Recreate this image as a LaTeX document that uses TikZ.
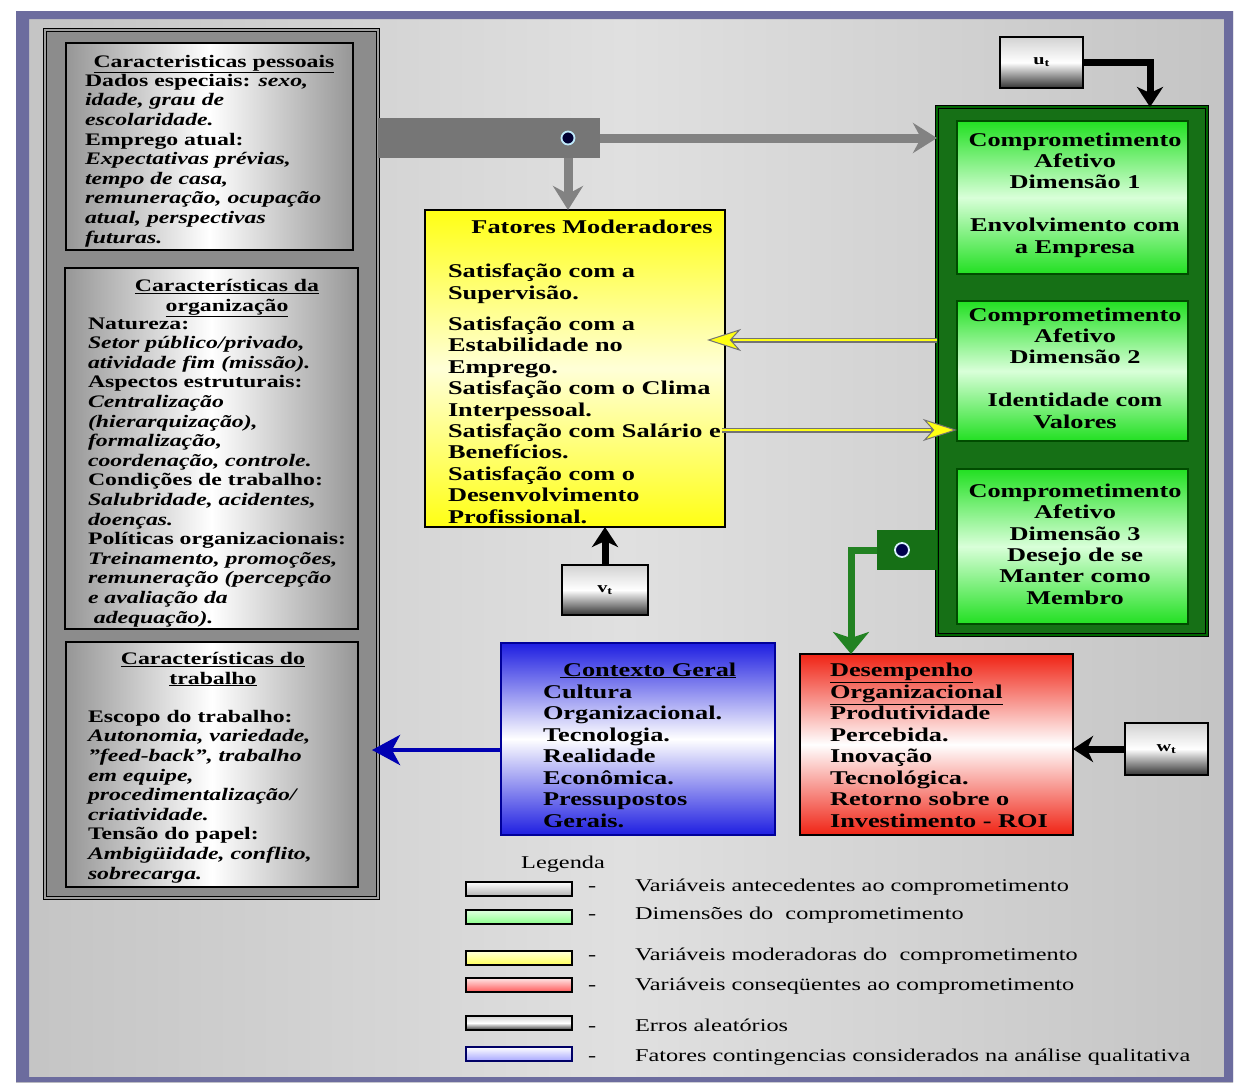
\documentclass[tikz,border=0pt]{standalone}
\usepackage{fontspec}
\setmainfont{Liberation Serif}[FakeStretch=1.35]
\usetikzlibrary{arrows.meta,calc}
\definecolor{bgA}{RGB}{196,196,196}
\definecolor{bgB}{RGB}{224,224,224}
\definecolor{frameblue}{RGB}{108,108,158}
\definecolor{panelgray}{RGB}{140,140,140}
\definecolor{bargray}{RGB}{118,118,118}
\definecolor{arrgray}{RGB}{130,130,130}
\definecolor{dkgreen}{RGB}{22,112,22}
\definecolor{lnGreen}{RGB}{34,130,34}
\definecolor{brgreen}{RGB}{34,224,34}
\definecolor{lgA}{RGB}{150,150,150}
\definecolor{myyellow}{RGB}{255,255,20}
\definecolor{myblue}{RGB}{30,30,225}
\definecolor{myred}{RGB}{240,35,20}
\newcommand\fsz[2]{\fontsize{#1}{#2}\selectfont}
\begin{document}
\begin{tikzpicture}[x=1pt,y=-1pt,
  every node/.style={inner sep=0pt, outer sep=0pt},
  panelbox/.style={fill=panelgray, draw=black, line width=1pt, double=gray!75, double distance=2.5pt},
  lbox/.style={draw=black, line width=1.2pt, left color=lgA, right color=lgA, middle color=white},
  gbox/.style={draw=black!70!green, line width=1.2pt, top color=brgreen, bottom color=brgreen, middle color=white!85!green},
  errbox/.style={draw=black, line width=1.8pt, top color=gray!35, bottom color=black!80, middle color=white},
  ttl/.style={anchor=base, align=center, font=\fsz{17.6}{19.6}\bfseries},
  bodyL/.style={anchor=base west, align=left, font=\fsz{17.6}{19.6}\bfseries},
  bodyB/.style={anchor=base west, align=left, font=\fsz{19.5}{21.5}\bfseries},
  gtext/.style={anchor=base, align=center, font=\fsz{19.5}{21.3}\bfseries},
  legtxt/.style={anchor=base west, font=\fsz{18}{20}},
  legsw/.style={draw=black, line width=1.8pt, minimum width=106pt, minimum height=14pt},
  garrow/.style={draw=arrgray, line width=9pt, -{Stealth[length=24pt, width=30pt, inset=8pt]}},
  karrow/.style={draw=black, line width=7pt, -{Stealth[length=20pt, width=26pt, inset=6pt]}},
  dot/.style={circle, minimum size=13pt, line width=1.8pt}
]
\useasboundingbox (0,0) rectangle (1237,1082);
\fill[white] (0,0) rectangle (1237,1082);
\shade[left color=bgA, right color=bgA, middle color=bgB] (16,11) rectangle (1233,1082);
\fill[frameblue, even odd rule] (16,11) rectangle (1233,1082) (29,19) rectangle (1224,1077);

% left panel
\node[panelbox, minimum width=333pt, minimum height=868pt] (lp) at (211.5,464) {};
\node[lbox, minimum width=287pt, minimum height=207pt] (lb1) at (209.5,146.5) {};
\node[lbox, minimum width=293pt, minimum height=361pt] (lb2) at (211.5,448.5) {};
\node[lbox, minimum width=292pt, minimum height=245pt] (lb3) at (212,764.5) {};

\node[ttl] (t1) at (214,67) {\underline{Caracteristicas pessoais}};
\node[bodyL] (b1) at (85,243) {Dados especiais: \textit{sexo,}\\
\textit{idade, grau de}\\
\textit{escolaridade.}\\
Emprego atual:\\
\textit{Expectativas prévias,}\\
\textit{tempo de casa,}\\
\textit{remuneração, ocupação}\\
\textit{atual, perspectivas}\\
\textit{futuras.}};

\node[ttl] (t2) at (227,311) {\underline{Características da}\\\underline{organização}};
\node[bodyL] (b2) at (88,623) {Natureza:\\
\textit{Setor público/privado,}\\
\textit{atividade fim (missão).}\\
Aspectos estruturais:\\
\textit{Centralização}\\
\textit{(hierarquização),}\\
\textit{formalização,}\\
\textit{coordenação, controle.}\\
Condições de trabalho:\\
\textit{Salubridade, acidentes,}\\
\textit{doenças.}\\
Políticas organizacionais:\\
\textit{Treinamento, promoções,}\\
\textit{remuneração (percepção}\\
\textit{e avaliação da}\\
\textit{\ adequação).}};

\node[ttl] (t3) at (213,684) {\underline{Características do}\\\underline{trabalho}};
\node[bodyL] (b3) at (88,879) {Escopo do trabalho:\\
\textit{Autonomia, variedade,}\\
\textit{"feed-back", trabalho}\\
\textit{em equipe,}\\
\textit{procedimentalização/}\\
\textit{criatividade.}\\
Tensão do papel:\\
\textit{Ambigüidade, conflito,}\\
\textit{sobrecarga.}};

% gray bar and circle
\node[fill=bargray, minimum width=222pt, minimum height=40pt] (bar) at (489,138) {};
\node[dot, fill=black!80!blue, draw=white!75!cyan] (c1) at (568,138) {};

% yellow box
\node[draw=black, line width=1.2pt, top color=myyellow, bottom color=myyellow, middle color={rgb,255:red,255;green,255;blue,215}, minimum width=300pt, minimum height=317pt] (yel) at (575,368.5) {};
\node[bodyB, anchor=base] (yt) at (592,233) {Fatores Moderadores};
\node[bodyB, font=\fsz{19.5}{21.4}\bfseries] (yb) at (448,523) {Satisfação com a\\
Supervisão.\\[10pt]
Satisfação com a\\
Estabilidade no\\
Emprego.\\
Satisfação com o Clima\\
Interpessoal.\\
Satisfação com Salário e\\
Benefícios.\\
Satisfação com o\\
Desenvolvimento\\
Profissional.};

% green outer & inner boxes
\node[fill=dkgreen, draw=black, line width=1pt, double=black!60!green, double distance=2pt, minimum width=270pt, minimum height=528pt] (gout) at (1072,371) {};
\node[gbox, minimum width=231pt, minimum height=153pt] (g1) at (1072.5,197.5) {};
\node[gbox, minimum width=231pt, minimum height=140pt] (g2) at (1072.5,371) {};
\node[gbox, minimum width=231pt, minimum height=155pt] (g3) at (1072.5,546.5) {};
\node[gtext] (g1t) at (1075,253) {Comprometimento\\Afetivo\\Dimensão 1\\[21.5pt]Envolvimento com\\a Empresa};
\node[gtext] (g2t) at (1075,428) {Comprometimento\\Afetivo\\Dimensão 2\\[21.5pt]Identidade com\\Valores};
\node[gtext] (g3t) at (1075,604) {Comprometimento\\Afetivo\\Dimensão 3\\Desejo de se\\Manter como\\Membro};

% error boxes
\node[errbox, minimum width=83pt, minimum height=51pt, font=\fsz{15}{16}\bfseries] (ut) at (1041.5,62.5) {u\textsubscript{t}};
\node[errbox, minimum width=86pt, minimum height=50pt, font=\fsz{15}{16}\bfseries] (vt) at (605,590) {v\textsubscript{t}};
\node[errbox, minimum width=83pt, minimum height=52pt, font=\fsz{15}{16}\bfseries] (wt) at (1166.5,749) {w\textsubscript{t}};

% small green square with circle
\node[fill=dkgreen, minimum width=60pt, minimum height=40pt] (gsq) at (907,550) {};
\node[dot, fill=black!70!blue, draw=white!85!cyan, minimum size=14pt] (c2) at (902,550) {};

% blue box
\node[draw=black!40!blue, line width=1.2pt, top color=myblue, bottom color=myblue, middle color=white, minimum width=274pt, minimum height=192pt] (blu) at (638,739) {};
\node[bodyB, anchor=base] (bt) at (648,676) {\underline{\,Contexto Geral}};
\node[bodyB] (bb) at (543,827) {Cultura\\
Organizacional.\\
Tecnologia.\\
Realidade\\
Econômica.\\
Pressupostos\\
Gerais.};

% red box
\node[draw=black, line width=1.2pt, top color=myred, bottom color=myred, middle color=white, minimum width=273pt, minimum height=181pt] (red) at (936.5,744.5) {};
\node[bodyB] (rb) at (830,827) {\underline{Desempenho}\\
\underline{Organizacional}\\
Produtividade\\
Percebida.\\
Inovação\\
Tecnológica.\\
Retorno sobre o\\
Investimento - ROI};

% connectors
\draw[garrow] (bar.east |- c1) -- (gout.west |- c1);
\draw[garrow] (c1 |- bar.south) -- (c1 |- yel.north);
\coordinate (utin) at (1150,107);
\draw[karrow] (ut.east) -| (utin);
\draw[karrow] (vt.north) -- (vt.north |- yel.south);
\draw[karrow] (wt.west) -- (red.east |- wt.west);
\coordinate (redin) at (851,654);
\draw[draw=lnGreen, line width=7pt, -{Stealth[length=22pt, width=36pt, inset=6pt]}] (gsq.west) -| (redin);
\coordinate (bluout) at ($(blu.west)+(0,11)$);
\draw[draw=black!30!blue, line width=4.5pt, -{Stealth[length=28pt, width=30pt, inset=8pt]}] (bluout) -- ($(lp.east |- bluout)+(-6,0)$);

% yellow double arrows
\coordinate (ya) at ($(gout.west)+(0,-31)$);
\coordinate (yae) at ($(yel.east |- ya)+(-18,0)$);
\draw[draw=black!55, line width=5pt, -{Stealth[length=34pt, width=22pt, inset=10pt, fill=myyellow, line width=1pt]}] (ya) -- (yae);
\draw[draw=myyellow, line width=2.6pt, shorten >=26pt] (ya) -- (yae);
\coordinate (yb2) at ($(yel.east)+(-3,61.5)$);
\coordinate (ybe) at (g2.west |- yb2);
\draw[draw=black!55, line width=5pt, -{Stealth[length=34pt, width=22pt, inset=10pt, fill=myyellow, line width=1pt]}] (yb2) -- (ybe);
\draw[draw=myyellow, line width=2.6pt, shorten >=26pt] (yb2) -- (ybe);

% legend
\node[anchor=base, font=\fsz{18}{20}] (legt) at (563,868) {Legenda};
\node[legsw, top color=white, bottom color=gray!60] (l1) at (519,889) {};
\node[legsw, top color=green!12!white, bottom color=green!45!white] (l2) at (519,917) {};
\node[legsw, top color=yellow!15!white, bottom color=yellow!65!white] (l3) at (519,958) {};
\node[legsw, top color=red!10!white, bottom color=red!65!white] (l4) at (519,985) {};
\node[errbox, minimum width=106pt, minimum height=14pt] (l5) at (519,1023) {};
\node[legsw, draw=blue!40!black, top color=white, bottom color=blue!35!white] (l6) at (519,1054) {};
\foreach \yy/\txt [count=\i] in {891/Variáveis antecedentes ao comprometimento,
  919/Dimensões do\ \ comprometimento,
  960/Variáveis moderadoras do\ \ comprometimento,
  990/Variáveis conseqüentes ao comprometimento,
  1031/Erros aleatórios,
  1061/Fatores contingencias considerados na análise qualitativa}{
  \node[legtxt] (d\i) at (588,\yy) {-};
  \node[legtxt] (lt\i) at (635,\yy) {\txt};
}
\end{tikzpicture}
\end{document}
